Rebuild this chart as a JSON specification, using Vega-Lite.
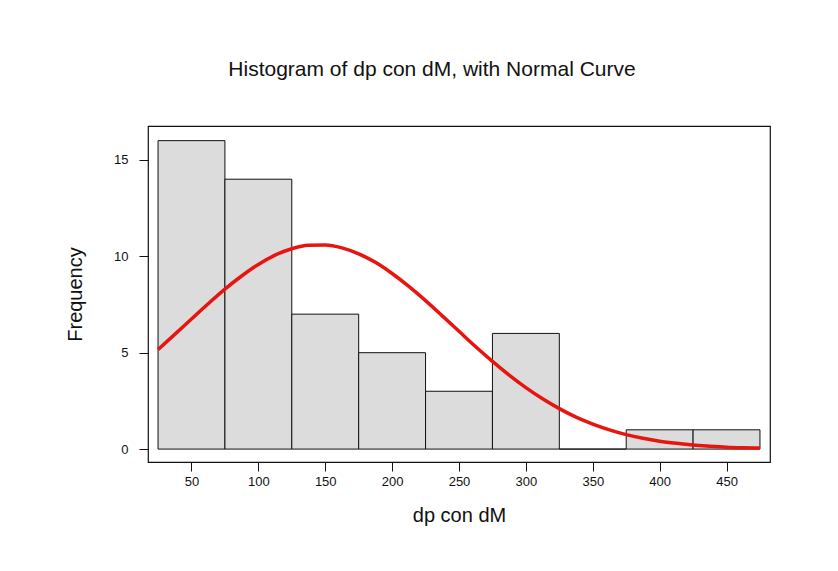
{
  "$schema": "https://vega.github.io/schema/vega-lite/v6.json",
  "width": 622,
  "height": 336,
  "autosize": {"type": "none"},
  "padding": {"left": 148, "top": 126, "right": 68, "bottom": 109},
  "background": "white",
  "title": {
    "text": "Histogram of dp con dM, with Normal Curve",
    "font": "Liberation Sans",
    "fontSize": 21,
    "fontWeight": "normal",
    "color": "#111",
    "anchor": "middle",
    "offset": 46,
    "dx": -27
  },
  "config": {
    "view": {"stroke": "#111", "strokeWidth": 1.2},
    "axis": {
      "grid": false,
      "domain": false,
      "tickColor": "#111",
      "tickSize": 9,
      "tickOffset": 0,
      "labelFont": "Liberation Sans",
      "labelFontSize": 13,
      "labelColor": "#111",
      "titleFont": "Liberation Sans",
      "titleFontSize": 20,
      "titleFontWeight": "normal",
      "titleColor": "#111"
    }
  },
  "datasets": {
    "bins": [
      {"lo": 25, "hi": 75, "count": 16},
      {"lo": 75, "hi": 125, "count": 14},
      {"lo": 125, "hi": 175, "count": 7},
      {"lo": 175, "hi": 225, "count": 5},
      {"lo": 225, "hi": 275, "count": 3},
      {"lo": 275, "hi": 325, "count": 6},
      {"lo": 325, "hi": 375, "count": 0},
      {"lo": 375, "hi": 425, "count": 1},
      {"lo": 425, "hi": 475, "count": 1}
    ],
    "curve": [
      {"x": 25, "y": 5.16}, {"x": 37.5, "y": 5.95}, {"x": 50, "y": 6.75}, {"x": 62.5, "y": 7.54},
      {"x": 75, "y": 8.30}, {"x": 87.5, "y": 8.98}, {"x": 100, "y": 9.58}, {"x": 112.5, "y": 10.06},
      {"x": 125, "y": 10.39}, {"x": 137.5, "y": 10.57}, {"x": 150, "y": 10.59}, {"x": 162.5, "y": 10.44},
      {"x": 175, "y": 10.13}, {"x": 187.5, "y": 9.69}, {"x": 200, "y": 9.11}, {"x": 212.5, "y": 8.44},
      {"x": 225, "y": 7.70}, {"x": 237.5, "y": 6.91}, {"x": 250, "y": 6.11}, {"x": 262.5, "y": 5.31},
      {"x": 275, "y": 4.55}, {"x": 287.5, "y": 3.84}, {"x": 300, "y": 3.19}, {"x": 312.5, "y": 2.61},
      {"x": 325, "y": 2.10}, {"x": 337.5, "y": 1.66}, {"x": 350, "y": 1.30}, {"x": 362.5, "y": 1.00},
      {"x": 375, "y": 0.75}, {"x": 387.5, "y": 0.56}, {"x": 400, "y": 0.41}, {"x": 412.5, "y": 0.30},
      {"x": 425, "y": 0.21}, {"x": 437.5, "y": 0.15}, {"x": 450, "y": 0.10}, {"x": 462.5, "y": 0.07},
      {"x": 475, "y": 0.05}
    ]
  },
  "layer": [
    {
      "data": {"name": "bins"},
      "mark": {"type": "rect", "fill": "#dcdcdc", "stroke": "#111", "strokeWidth": 1},
      "encoding": {
        "x": {
          "field": "lo", "type": "quantitative",
          "scale": {"domain": [17.5, 482.5], "nice": false, "zero": false},
          "axis": {"values": [50, 100, 150, 200, 250, 300, 350, 400, 450], "title": "dp con dM", "labelPadding": 4, "titlePadding": 17}
        },
        "x2": {"field": "hi"},
        "y": {
          "field": "count", "type": "quantitative",
          "scale": {"domain": [-0.67, 16.76], "nice": false, "zero": false},
          "axis": {"values": [0, 5, 10, 15], "title": "Frequency", "labelPadding": 11, "titlePadding": 28}
        },
        "y2": {"datum": 0}
      }
    },
    {
      "data": {"name": "curve"},
      "mark": {"type": "line", "color": "#e8140f", "strokeWidth": 3.5, "interpolate": "monotone"},
      "encoding": {
        "x": {"field": "x", "type": "quantitative"},
        "y": {"field": "y", "type": "quantitative"}
      }
    }
  ]
}
